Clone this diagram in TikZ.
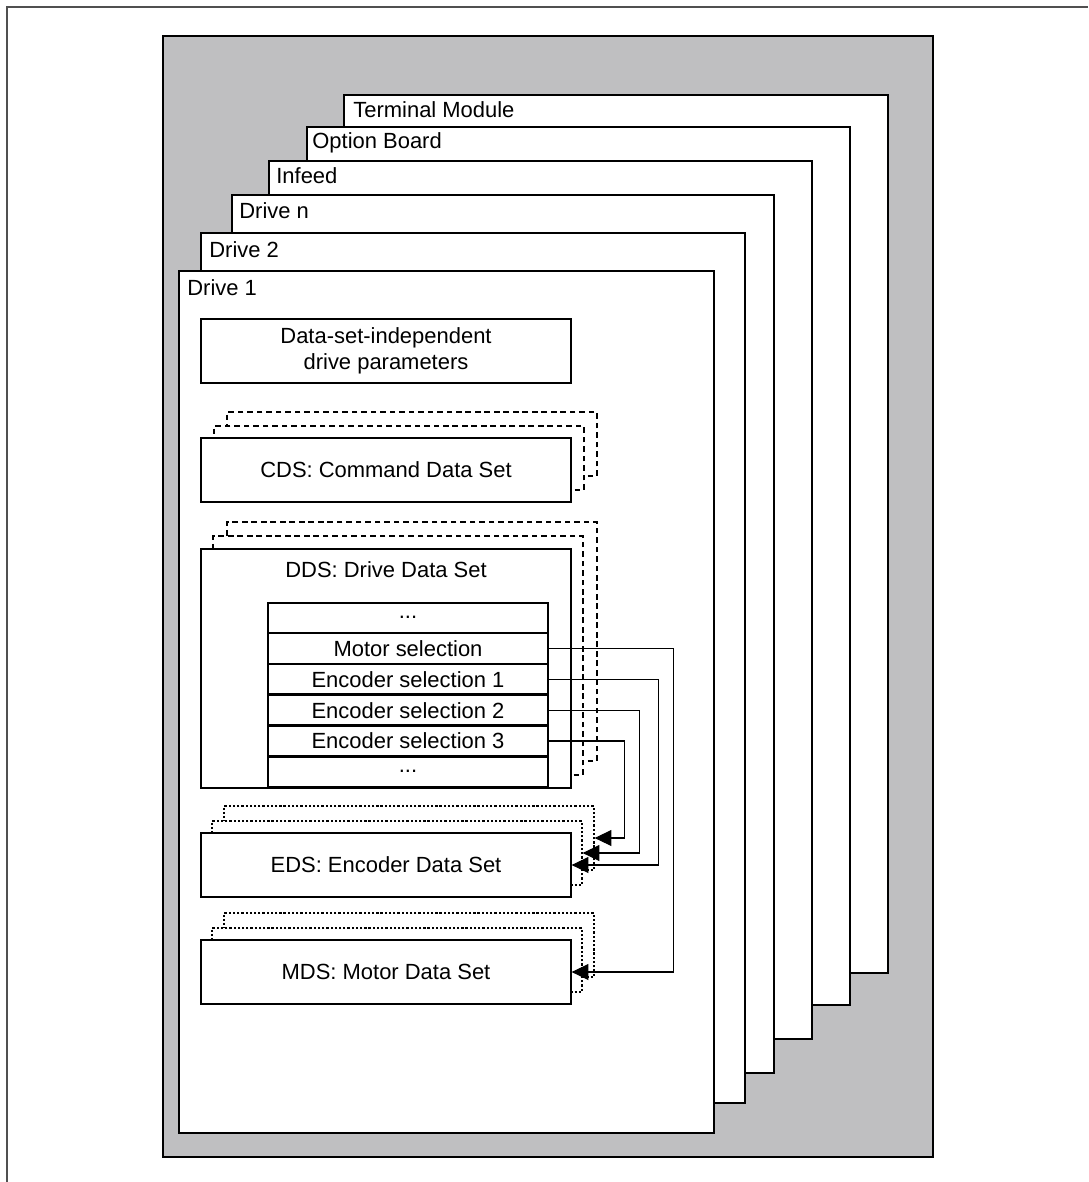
\documentclass[tikz,border=0pt]{standalone}
\usepackage{fontspec}
\setmainfont{Liberation Sans}
\usetikzlibrary{arrows.meta,positioning}
\definecolor{framegrey}{RGB}{80,80,80}
\definecolor{panelgrey}{RGB}{191,191,193}

\begin{document}
\begin{tikzpicture}[
    x=0.02cm, y=-0.02cm,
    every node/.style={font=\fontsize{12.5}{14.8}\selectfont},
    module/.style={draw, fill=white, line width=0.75pt},
    tag/.style={anchor=base west, inner sep=0pt},
    box/.style={draw, fill=white, line width=0.75pt, minimum width=7.4cm,
      minimum height=1.28cm, inner sep=0pt, align=center},
    dashbox/.style={box, dash pattern=on 3.2pt off 2.2pt},
    dotbox/.style={box, dash pattern=on 1.3pt off 1.1pt},
    row/.style={draw, fill=white, line width=0.75pt, minimum width=5.6cm,
      minimum height=0.59cm, inner sep=0pt},
    arrow/.style={-{Triangle[length=9.5pt, width=9pt]}, line width=0.6pt}
  ]
    \useasboundingbox (0,0) rectangle (1088,1182);

    % frame and grey panel
    \draw[framegrey, line width=1.1pt] (7,1182) -- (7,7) -- (1088,7);
    \draw[fill=panelgrey, line width=1pt] (163,36) rectangle (933,1157);

    % stacked modules, back to front
    \draw[module] (344,95) rectangle (888,973);
    \node[tag] (tmlabel) at (353,118) {Terminal Module};
    \draw[module] (307,127) rectangle (850,1005);
    \node[tag] (oblabel) at (312,149) {Option Board};
    \draw[module] (269,161) rectangle (812,1039);
    \node[tag] (inlabel) at (276,184) {Infeed};
    \draw[module] (232,195) rectangle (774,1073);
    \node[tag] (dnlabel) at (239,219) {Drive n};
    \draw[module] (201,233) rectangle (745,1103);
    \node[tag] (d2label) at (209,258) {Drive 2};
    \draw[module] (179,271) rectangle (714,1133);
    \node[tag] (d1label) at (187,296) {Drive 1};

    \node[box] (indep) at (386,351) {Data-set-independent\\drive parameters};

    % command data sets
    \coordinate (cdspos) at (386,470);
    \node[dashbox] (cds2) at ([shift={(26,-26)}]cdspos) {};
    \node[dashbox] (cds1) at ([shift={(13,-12)}]cdspos) {};
    \node[box] (cds) at (cdspos) {CDS: Command Data Set};

    % drive data sets
    \coordinate (ddspos) at (386,668.5);
    \node[dashbox, minimum height=4.78cm] (dds2) at ([shift={(26,-27)}]ddspos) {};
    \node[dashbox, minimum height=4.78cm] (dds1) at ([shift={(12,-13)}]ddspos) {};
    \node[box, minimum height=4.78cm] (dds) at (ddspos) {};
    \node (ddstitle) at ([yshift=-0.42cm]dds.north) {DDS: Drive Data Set};

    \node[row] (dotsa) at (408,617.75) {...};
    \node[row, below=0pt of dotsa] (motor) {Motor selection};
    \node[row, below=0pt of motor] (enc1) {Encoder selection 1};
    \node[row, below=0pt of enc1] (enc2) {Encoder selection 2};
    \node[row, below=0pt of enc2] (enc3) {Encoder selection 3};
    \node[row, below=0pt of enc3] (dotsb) {...};

    % encoder data sets
    \coordinate (edspos) at (386,865);
    \node[dotbox] (eds2) at ([shift={(23,-27)}]edspos) {};
    \node[dotbox] (eds1) at ([shift={(11,-12)}]edspos) {};
    \node[box] (eds) at (edspos) {EDS: Encoder Data Set};

    % motor data sets
    \coordinate (mdspos) at (386,972);
    \node[dotbox] (mds2) at ([shift={(23,-27)}]mdspos) {};
    \node[dotbox] (mds1) at ([shift={(11,-12)}]mdspos) {};
    \node[box] (mds) at (mdspos) {MDS: Motor Data Set};

    \draw[arrow] (motor.east) -- ++(125,0) |- (mds.east);
    \draw[arrow] (enc1.east) -- ++(110,0) |- (eds.east);
    \draw[arrow] (enc2.east) -- ++(91,0) |- (eds1.east);
    \draw[arrow] (enc3.east) -- ++(76,0) |- (eds2.east);
  \end{tikzpicture}
\end{document}
